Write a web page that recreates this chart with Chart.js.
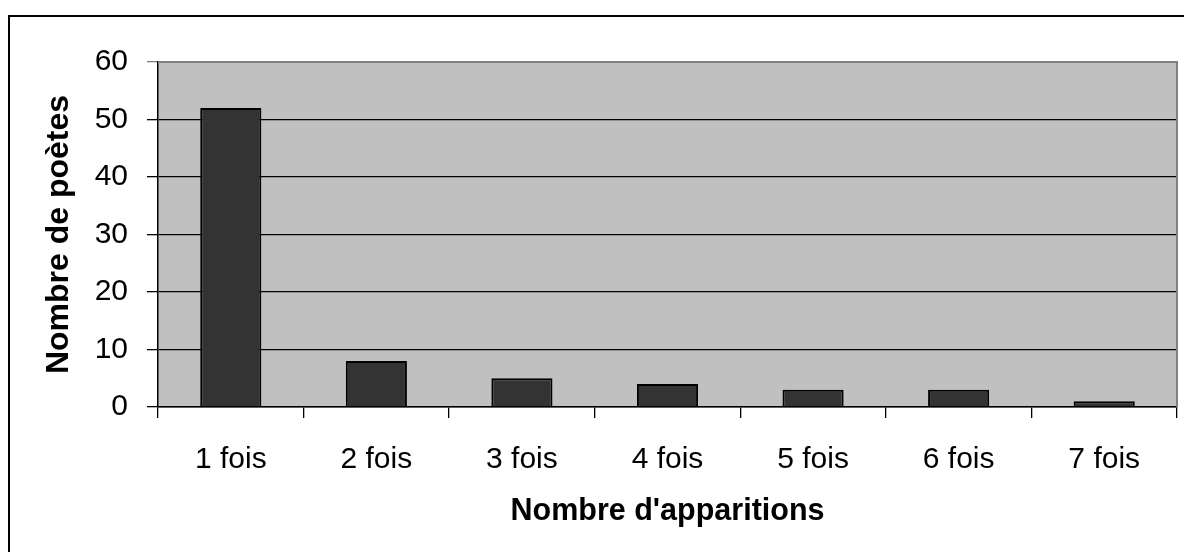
<!DOCTYPE html>
<html>
<head>
<meta charset="utf-8">
<script src="https://cdn.jsdelivr.net/npm/chart.js@4"></script>
<style>
  html, body { margin: 0; padding: 0; background: #fff; }
  #wrap { position: relative; width: 1184px; height: 552px; }
</style>
</head>
<body>
<div id="wrap"><canvas id="chart" width="1184" height="552"></canvas></div>
<script>
const categories = ["1 fois", "2 fois", "3 fois", "4 fois", "5 fois", "6 fois", "7 fois"];
const nombrePoetes = [52, 8, 5, 4, 3, 3, 1];
const yTicks = [0, 10, 20, 30, 40, 50, 60];

const FONT = "'Liberation Sans', Arial, sans-serif";

// fond gris de la zone de tracé + cadre extérieur
const decor = {
  id: "decor",
  beforeDraw(chart) {
    const c = chart.ctx;
    const a = chart.chartArea;
    c.save();
    c.fillStyle = "#fff";
    c.fillRect(0, 0, chart.width, chart.height);
    c.strokeStyle = "#000";
    c.lineWidth = 2;
    c.strokeRect(9, 16, chart.width + 10, chart.height + 10);
    c.fillStyle = "#c0c0c0";
    c.fillRect(a.left, a.top, a.right - a.left, a.bottom - a.top);
    c.restore();
  },
  afterDatasetsDraw(chart) {
    const c = chart.ctx;
    const a = chart.chartArea;
    c.save();
    c.strokeStyle = "#808080";
    c.lineWidth = 2;
    c.beginPath();
    c.moveTo(a.left, a.top);
    c.lineTo(a.right, a.top);
    c.lineTo(a.right, a.bottom);
    c.stroke();
    c.restore();
  }
};

new Chart(document.getElementById("chart"), {
  type: "bar",
  data: {
    labels: categories,
    datasets: [{
      data: nombrePoetes,
      backgroundColor: "#333333",
      borderColor: "#000000",
      borderWidth: 2,
      categoryPercentage: 1,
      barPercentage: 0.42
    }]
  },
  options: {
    responsive: false,
    animation: false,
    layout: { padding: { left: 40, top: 62, right: 7, bottom: 22 } },
    plugins: { legend: { display: false }, tooltip: { enabled: false } },
    scales: {
      x: {
        offset: true,
        afterFit(scale) { scale.height = 123; },
        grid: {
          offset: true,
          drawOnChartArea: false,
          drawTicks: true,
          tickLength: 11,
          color: "#000",
          lineWidth: 1.3
        },
        border: { color: "#000", width: 1.5 },
        ticks: { color: "#000", padding: 24, font: { family: FONT, size: 30 } },
        title: {
          display: true,
          text: "Nombre d'apparitions",
          color: "#000",
          padding: 0,
          font: { family: FONT, size: 30.5, weight: "bold" }
        }
      },
      y: {
        min: 0,
        max: 60,
        afterFit(scale) { scale.width = 118; },
        afterBuildTicks(scale) { scale.ticks = yTicks.map(v => ({ value: v })); },
        grid: {
          drawTicks: true,
          tickLength: 11,
          color: ctx => (ctx.tick && ctx.tick.value === 60 ? "#808080" : "#000"),
          lineWidth: 1.3
        },
        border: { color: "#000", width: 1.5 },
        ticks: { color: "#000", padding: 19, font: { family: FONT, size: 30 } },
        title: {
          display: true,
          text: "Nombre de poètes",
          color: "#000",
          padding: 0,
          font: { family: FONT, size: 32, weight: "bold" }
        }
      }
    }
  },
  plugins: [decor]
});
</script>
</body>
</html>
